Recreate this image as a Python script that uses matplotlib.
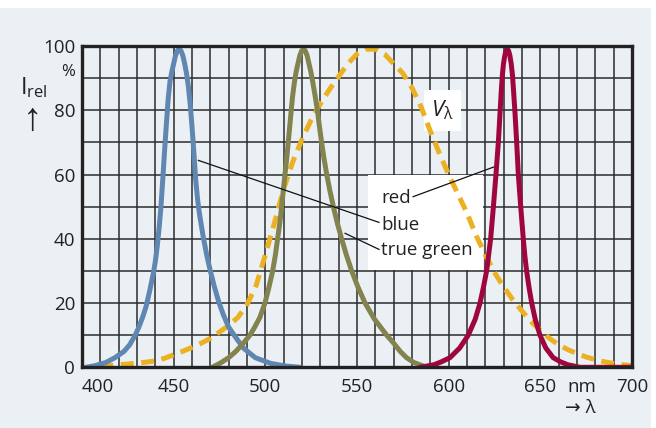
"""Relative spectral intensity of LEDs compared with the V(lambda) curve."""

import matplotlib
matplotlib.use("Agg")
import matplotlib.pyplot as plt
from matplotlib.patches import Rectangle

plt.rcParams["font.family"] = ["Open Sans", "DejaVu Sans"]
plt.rcParams["mathtext.fontset"] = "custom"
plt.rcParams["mathtext.rm"] = "Open Sans"
plt.rcParams["mathtext.it"] = "Open Sans:italic"

# wavelength (nm) / relative intensity (%)
blue_nm = [402, 407, 413, 418, 423, 426, 429, 431, 433, 435, 437, 439, 440, 441,
           442, 443, 444, 445, 446, 447, 448, 449, 450, 451, 452, 453, 454, 455,
           456, 457, 458, 459, 460, 461, 462, 463, 464, 465, 466, 467, 468, 470,
           472, 474.5, 477, 480, 483, 488, 494.5, 503, 511, 519]
blue_val = [0, 0.5, 1.5, 3, 5, 7, 10, 12.5, 15.5, 19, 24, 29.5, 33, 37.5,
            43, 49.5, 58, 67, 75.5, 83.5, 89, 92, 94.5, 97, 98.5, 99, 98.5, 97,
            94.5, 91.5, 87.5, 82, 75, 67, 58.5, 52.5, 48, 44.5, 41, 38, 35, 30,
            25.5, 20.5, 16.5, 12.5, 10, 6, 3, 1.2, 0.4, 0]

green_nm = [471, 476, 480, 484, 488, 491.6, 494, 497, 499.8, 502, 504, 505.5,
            506.7, 507.9, 508.9, 509.8, 510.7, 511.5, 512.5, 513.8, 514.8, 515.8,
            516.8, 517.8, 518.8, 519.8, 520.8, 521.8, 522.8, 523.8, 524.8, 525.8,
            527, 528.4, 529.5, 530.7, 532, 533.5, 535.2, 537.1, 539.2, 541.6,
            544.2, 547.1, 550.5, 554.4, 559.5, 566.2, 570, 573.5, 577, 581, 588]
green_val = [0, 1.5, 3, 5, 7.5, 10, 12.3, 15.5, 20, 25, 30, 35,
             40, 45, 50, 55, 60, 64, 70, 78, 84, 88.5,
             92, 94.5, 97, 98.5, 99, 98.5, 97, 94.5, 92, 89,
             85, 80, 75, 70, 65, 60, 55, 50, 45, 40,
             35, 30, 25, 20, 15, 10, 7.5, 5, 3, 1.5, 0]

red_nm = [584.4, 592, 596, 600.7, 606, 610.7, 614.5, 617.1, 619, 620.7, 621.8,
          622.9, 624.4, 625.8, 627.1, 628, 628.7, 629.3, 629.9, 630.6, 631.3,
          632, 632.7, 633.4, 634.1, 634.8, 635.4, 636.2, 637.1, 638, 639.3,
          640.7, 641.5, 642.5, 643.8, 645.3, 647.2, 649.8, 653, 657, 661, 665,
          671.6, 700]
red_val = [0, 0.8, 1.7, 3, 6, 10, 15, 20, 25, 30, 35,
           40, 50, 60, 70, 79, 86, 91, 94.5, 97, 98.5,
           99, 98.5, 97, 94.5, 91, 86, 79, 70, 60, 50,
           40, 35, 30, 25, 20, 15, 10, 6, 3, 1.7, 0.8,
           0, 0]

vlambda_nm = [410, 415, 420, 425, 430, 435, 440, 445, 450, 455, 460, 465, 470,
              475, 480, 485, 490, 495, 500, 505, 510, 515, 520, 525, 530, 535,
              540, 545, 550, 555, 560, 565, 570, 575, 580, 585, 590, 595, 600,
              605, 610, 615, 620, 625, 630, 635, 640, 645, 650, 655, 660, 665,
              670, 675, 680, 685, 690, 695, 700]
vlambda_val = [0.3, 0.5, 0.8, 1.0, 1.3, 1.6, 2.0, 2.8, 3.9, 5.0, 6.2, 7.5, 9.0,
               11, 13, 15.5, 19.5, 25.5, 35, 45, 55.5, 64, 71, 77, 82, 86.5,
               90.5, 94.5, 97.5, 99, 99, 97.5, 94.5, 91.5, 87, 81, 73.5, 66.5, 60,
               54, 48, 41, 35, 29.5, 25, 21, 17.5, 14.2, 11.5, 9, 7, 5.5,
               4.3, 3.2, 2.4, 1.7, 1.2, 0.8, 0.5]

x_ticks = [400, 450, 500, 550, 600, 650, 700]
y_ticks = [0, 20, 40, 60, 80, 100]

BG = "#EBF0F5"
GRID = "#2B2B2B"
BLUE = "#5F87B1"
GREEN = "#83834F"
RED = "#A0063E"
GOLD = "#EBB122"
INK = "#222222"

W, H = 656, 428
fig = plt.figure(figsize=(W / 100, H / 100), dpi=100, facecolor="white")
fig.patches.append(Rectangle((0, 0), 651 / W, 1 - 8 / H, transform=fig.transFigure,
                             facecolor=BG, edgecolor="none", zorder=-10))

ax = fig.add_axes([82 / W, 1 - 367.3 / H, 550 / W, 321.3 / H])
ax.set_facecolor(BG)
ax.set_xlim(400, 700)
ax.set_ylim(0, 100)

ax.set_xticks(x_ticks)
ax.set_xticklabels([str(v) for v in x_ticks])
ax.set_xticks(range(400, 701, 10), minor=True)
ax.set_yticks(y_ticks)
ax.set_yticklabels([str(v) for v in y_ticks])
ax.set_yticks(range(0, 101, 10), minor=True)
ax.tick_params(which="both", length=0)
ax.tick_params(axis="x", pad=8, labelsize=13.5, colors=INK)
ax.tick_params(axis="y", pad=5, labelsize=13.5, colors=INK)
ax.get_xticklabels()[0].set_ha("left")
ax.grid(which="both", color=GRID, linewidth=1.1)
ax.set_axisbelow(True)
for sp in ax.spines.values():
    sp.set_linewidth(2.4)
    sp.set_color(INK)
    sp.set_zorder(5)

# label boxes
ax.add_patch(Rectangle((556, 30.3), 62.7, 29.6, facecolor="white", edgecolor="none", zorder=2))
ax.add_patch(Rectangle((586.5, 73.6), 20.5, 12.7, facecolor="white", edgecolor="none", zorder=2))

ax.plot(vlambda_nm, vlambda_val, color=GOLD, linewidth=3.6, dashes=(2.6, 1.5),
        dash_capstyle="butt", zorder=3)
curve = dict(linewidth=3.6, zorder=4, solid_joinstyle="round", solid_capstyle="round")
ax.plot(blue_nm, blue_val, color=BLUE, **curve)
ax.plot(green_nm, green_val, color=GREEN, **curve)
ax.plot(red_nm, red_val, color=RED, **curve)

# leader lines
lead = dict(color="#111111", linewidth=0.9, zorder=4.5)
ax.plot([580.6, 624.4], [53.1, 62.3], **lead)
ax.plot([463.5, 562.0], [64.4, 45.1], **lead)
ax.plot([543.5, 562.0], [41.7, 36.7], **lead)

txt = dict(fontsize=13.5, color=INK, va="center", ha="left", zorder=6)
ax.text(563.2, 52.7, "red", **txt)
ax.text(563.2, 44.3, "blue", **txt)
ax.text(563.2, 36.5, "true green", **txt)
ax.text(596.5, 80, r"$V_{\mathrm{λ}}$", fontsize=16, color=INK,
        ha="center", va="center", zorder=6)

# axis annotations
fig.text(75 / W, 1 - 72 / H, "%", fontsize=12, color=INK, ha="right", va="center")
fig.text(20 / W, 1 - 88 / H, r"$\mathregular{I_{rel}}$", fontsize=17, color=INK,
         ha="left", va="center")
fig.text(33 / W, 1 - 120 / H, "↑", fontsize=28, color=INK, ha="center", va="center",
         family=["Liberation Sans", "DejaVu Sans"])
fig.text(582 / W, 1 - 387 / H, "nm", fontsize=13.5, color=INK, ha="center", va="center")
fig.text(580 / W, 1 - 408 / H, "→ λ", fontsize=13.5, color=INK, ha="center", va="center",
         family=["Open Sans", "DejaVu Sans"])

fig.savefig("out.png", dpi=100, facecolor=fig.get_facecolor())
